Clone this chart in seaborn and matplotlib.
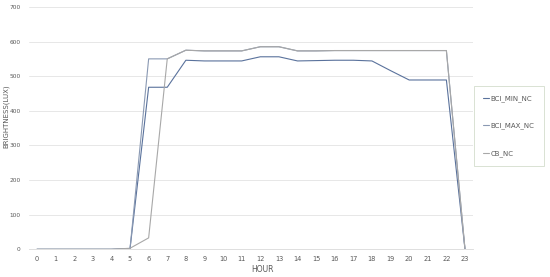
import numpy as np
import pandas as pd
import matplotlib
matplotlib.use("Agg")
import matplotlib.pyplot as plt
import seaborn as sns

hours = list(range(24))
bci_min_nc = [0, 0, 0, 0, 0, 2, 468, 468, 546, 544, 544, 544, 556, 556,
              544, 545, 546, 546, 544, 516, 489, 489, 489, 0]
bci_max_nc = [0, 0, 0, 0, 0, 2, 550, 550, 575, 573, 573, 573, 585, 585,
              573, 573, 574, 574, 574, 574, 574, 574, 574, 0]
cb_nc = [0, 0, 0, 0, 0, 3, 33, 550, 575, 573, 573, 573, 585, 585,
         573, 573, 574, 574, 574, 574, 574, 574, 574, 0]
series_names = ["BCI_MIN_NC", "BCI_MAX_NC", "CB_NC"]
colors = ["#5a729c", "#8a99b3", "#a8a8a8"]

df = pd.DataFrame({
    "HOUR": hours * 3,
    "value": bci_min_nc + bci_max_nc + cb_nc,
    "series": np.repeat(series_names, len(hours)),
})

sns.set_style("white")
fig = plt.figure(figsize=(5.5, 2.77), dpi=100)
ax = fig.add_axes([0.0527, 0.1, 0.8073, 0.875])

sns.lineplot(data=df, x="HOUR", y="value", hue="series", hue_order=series_names,
             palette=colors, linewidth=0.8, ax=ax, legend=False)

ax.set_xlim(-0.43, 23.43)
ax.set_ylim(0, 700)
ax.set_xticks(hours)
ax.set_yticks(range(0, 701, 100))
ax.tick_params(axis="x", labelsize=4.8, colors="#595959", length=0, pad=5)
ax.tick_params(axis="y", labelsize=4.2, colors="#595959", length=0, pad=6)
ax.grid(axis="y", color="#e3e3e3", linewidth=0.6)
for s in ["top", "right", "left"]:
    ax.spines[s].set_visible(False)
ax.spines["bottom"].set_color("#d9d9d9")
ax.spines["bottom"].set_linewidth(0.6)
ax.set_xlabel("HOUR", fontsize=5.5, color="#595959")
ax.set_ylabel("BRIGHTNESS(LUX)", fontsize=5, color="#595959")
ax.xaxis.set_label_coords(0.525, -0.065)
ax.yaxis.set_label_coords(-0.045, 0.55)

handles = [plt.Line2D([], [], color=c, linewidth=0.8) for c in colors]
leg = fig.legend(handles, series_names, loc="center", bbox_to_anchor=(0.925, 0.545),
                 fontsize=5, frameon=True, handlelength=0.9, handletextpad=0.2,
                 labelspacing=3.0, borderpad=1.3, fancybox=False, borderaxespad=0)
leg.get_frame().set_edgecolor("#c8d5c0")
leg.get_frame().set_linewidth(0.6)
for t in leg.get_texts():
    t.set_color("#595959")

fig.savefig("out.png", dpi=100)
